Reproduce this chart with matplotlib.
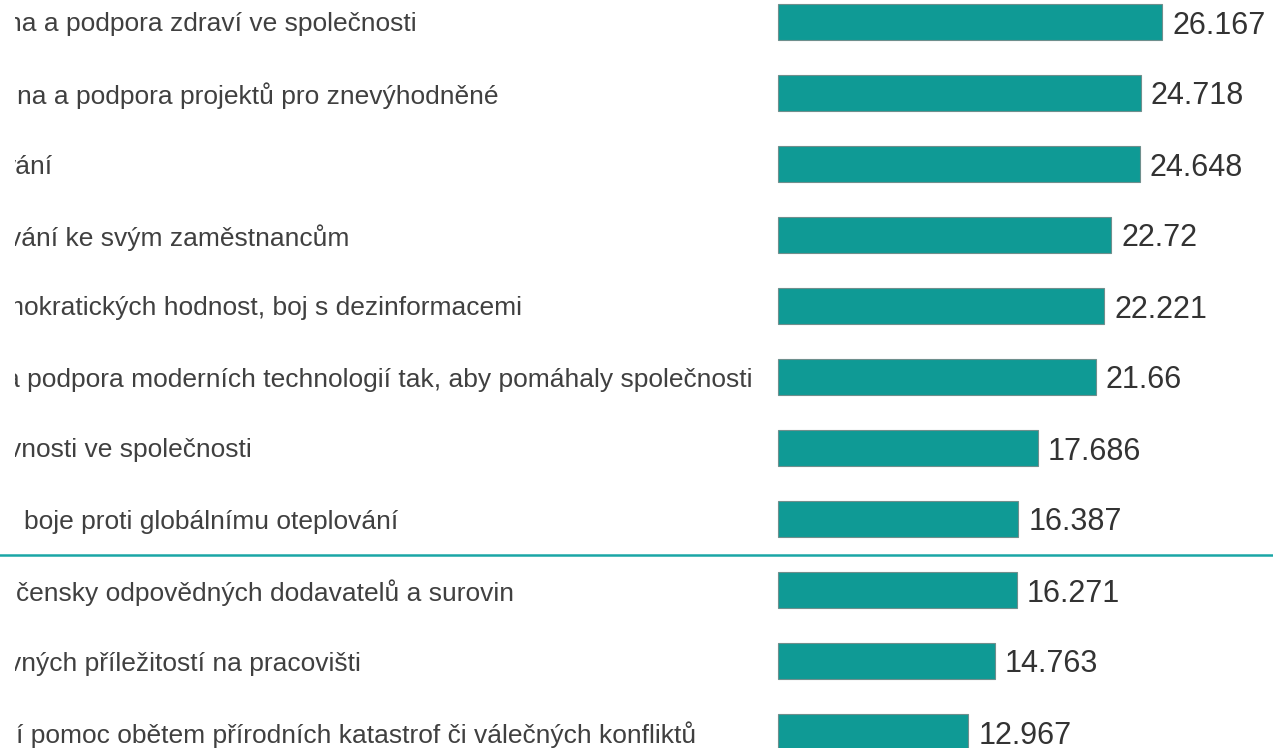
import matplotlib
matplotlib.use("Agg")
import matplotlib.pyplot as plt
from matplotlib.transforms import blended_transform_factory, IdentityTransform, Bbox

# ---- data ----
labels = [
    "na a podpora zdraví ve společnosti",
    "na a podpora projektů pro znevýhodněné",
    "vání",
    "vání ke svým zaměstnancům",
    "mokratických hodnost, boj s dezinformacemi",
    "a podpora moderních technologií tak, aby pomáhaly společnosti",
    "vnosti ve společnosti",
    "boje proti globálnímu oteplování",
    "čensky odpovědných dodavatelů a surovin",
    "vných příležitostí na pracovišti",
    "í pomoc obětem přírodních katastrof či válečných konfliktů",
]
values = [26.167, 24.718, 24.648, 22.72, 22.221, 21.66, 17.686, 16.387, 16.271, 14.763, 12.967]
value_texts = ["26.167", "24.718", "24.648", "22.72", "22.221", "21.66",
               "17.686", "16.387", "16.271", "14.763", "12.967"]

# ---- layout (pixels) ----
W, H = 1273, 748
label_x_px = [7, 17, 3, 8, 2, 5, 8, 24, 16, 8, 16]
clip_left_px = 15
bar_start_px = 778
px_per_unit = 14.675
row_px = 71
first_center_px = 22
bar_h_px = 36
sep_after_row = 7

plt.rcParams["font.family"] = ["Liberation Sans", "DejaVu Sans"]

fig = plt.figure(figsize=(W / 100, H / 100), dpi=100)
fig.patch.set_facecolor("white")
ax = fig.add_axes([0, 0, 1, 1])
ax.set_xlim(-bar_start_px / px_per_unit, (W - bar_start_px) / px_per_unit)
ax.set_ylim((H - first_center_px) / row_px, -first_center_px / row_px)
ax.axis("off")

ypos = list(range(len(values)))
ax.barh(ypos, values, height=bar_h_px / row_px, left=0,
        color="#0f9a95", edgecolor="#6f8f8d", linewidth=0.8, zorder=2)

for i, (v, t) in enumerate(zip(values, value_texts)):
    ax.annotate(t, xy=(v, i), xytext=(10 * 72 / 100, 0), textcoords="offset points",
                ha="left", va="center_baseline", fontsize=22, color="#333333")

trans = blended_transform_factory(IdentityTransform(), ax.transData)
clip = Bbox.from_extents(clip_left_px, 0, W, H)
for i, (lab, x) in enumerate(zip(labels, label_x_px)):
    t = ax.text(x, i, lab, transform=trans, ha="left", va="center_baseline",
                fontsize=19, color="#404040")
    t.set_clip_path(None)
    t.set_clip_box(clip)
    t.set_clip_on(True)

ax.axhline(sep_after_row + 0.5, color="#1aa6a6", linewidth=1.8, zorder=3)

fig.savefig("out.png", dpi=100, facecolor="white")
